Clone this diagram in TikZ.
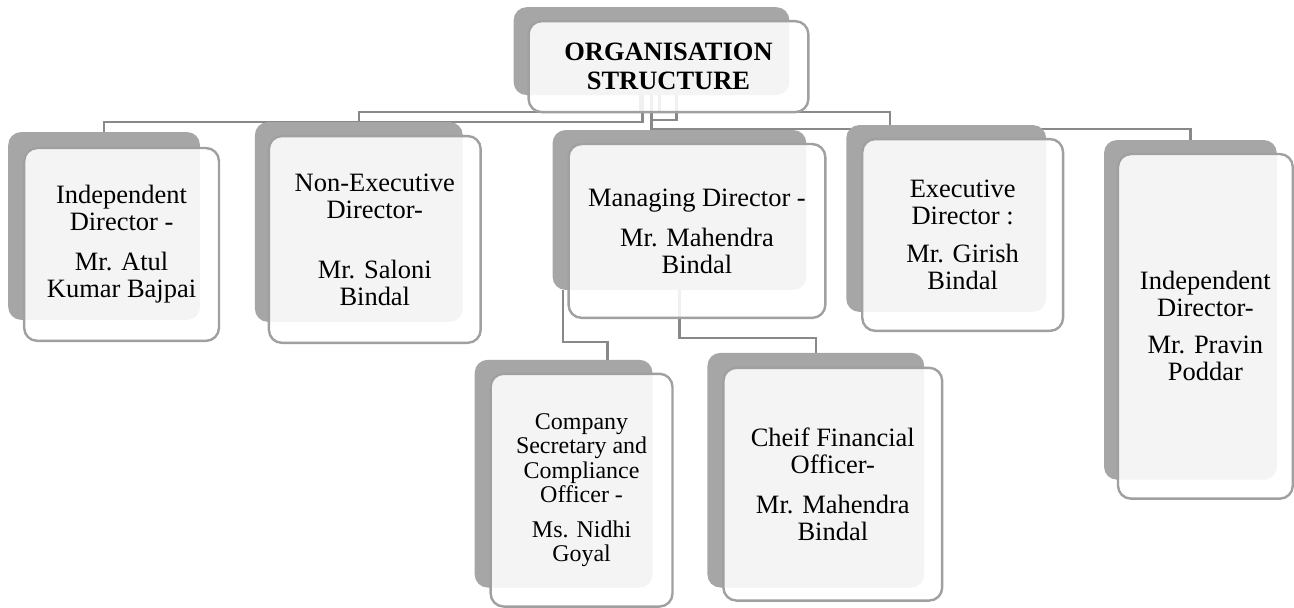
\documentclass[tikz,border=0pt]{standalone}
\usepackage{fontspec}
\setmainfont{Liberation Serif}
\usetikzlibrary{backgrounds,calc}
\definecolor{shade}{RGB}{166,166,166}
\definecolor{rim}{RGB}{160,160,160}
\definecolor{wire}{RGB}{137,137,137}
\begin{document}
\begin{tikzpicture}[x=1pt,y=-1pt,
	back/.style={fill=shade,rounded corners=13pt,anchor=north west,inner sep=0pt},
	front/.style={draw=rim,line width=2.4pt,fill=white,fill opacity=.88,text opacity=1,rounded corners=13pt,anchor=north west,inner sep=0pt,align=center,font=\fontsize{26.5}{27}\selectfont},
	conn/.style={draw=wire,line width=2.2pt}]
	\begin{pgfonlayer}{background}
	\path[fill=white,use as bounding box] (0,0) rectangle (1294,603);
	\end{pgfonlayer}
	\node[back,minimum width=276pt,minimum height=88pt] (orgb) at (514,7) {};
	\node[front,minimum width=280pt,minimum height=91pt,font=\bfseries\fontsize{26.5}{29}\selectfont] (org) at (528,20) {ORGANISATION\\STRUCTURE};
	\node[back,minimum width=192pt,minimum height=188pt] (ind1b) at (8,132) {};
	\node[front,minimum width=195pt,minimum height=193pt] (ind1) at (23,147) {Independent\\Director -\\[13pt]Mr. Atul\\Kumar Bajpai};
	\node[back,minimum width=208pt,minimum height=200pt] (nonexb) at (255,122) {};
	\node[front,minimum width=212pt,minimum height=207pt] (nonex) at (268,135) {Non-Executive\\Director-\\[33pt]Mr. Saloni\\Bindal};
	\node[back,minimum width=254pt,minimum height=160pt] (mdb) at (553,130) {};
	\node[front,minimum width=257pt,minimum height=174pt] (md) at (568,143) {Managing Director -\\[13pt]Mr. Mahendra\\Bindal};
	\node[back,minimum width=200pt,minimum height=187pt] (exdb) at (847,125) {};
	\node[front,minimum width=201pt,minimum height=192pt] (exd) at (862,138) {Executive\\Director :\\[11pt]Mr. Girish\\Bindal};
	\node[back,minimum width=173pt,minimum height=340pt] (ind2b) at (1105,140) {};
	\node[front,minimum width=175pt,minimum height=345pt] (ind2) at (1118,153) {Independent\\Director-\\[10pt]Mr. Pravin\\Poddar};
	\node[back,minimum width=178pt,minimum height=228pt] (csb) at (475,360) {};
	\node[front,minimum width=182pt,minimum height=233pt,font=\fontsize{24}{24.5}\selectfont] (cs) at (490,373) {Company\\Secretary and\\Compliance\\Officer -\\[10pt]Ms. Nidhi\\Goyal};
	\node[back,minimum width=217pt,minimum height=235pt] (cfob) at (708,353) {};
	\node[front,minimum width=219pt,minimum height=233pt] (cfo) at (723,367) {Cheif Financial\\Officer-\\[13pt]Mr. Mahendra\\Bindal};
	\begin{pgfonlayer}{background}
	\draw[conn] ([xshift=-9pt]orgb.south) |- ($(ind1b.north)+(0,-10)$) -- (ind1b.north);
	\draw[conn] ([xshift=-11pt]orgb.south) |- ($(nonexb.north)+(0,-10)$) -- (nonexb.north);
	\draw[conn] ([xshift=25pt]orgb.south) |- ($([xshift=-28pt]mdb.north)+(0,-10)$) -- ([xshift=-28pt]mdb.north);
	\draw[conn] ([xshift=8pt]orgb.south) |- ($([xshift=-56pt]exdb.north)+(0,-13)$) -- ([xshift=-56pt]exdb.north);
	\draw[conn] (orgb.south) |- ($(ind2b.north)+(0,-11)$) -- (ind2b.north);
	\draw[conn] ([xshift=11pt]mdb.south west) |- ($([xshift=44pt]csb.north)+(0,-18)$) -- ([xshift=44pt]csb.north);
	\draw[conn] (mdb.south) |- ($(cfob.north)+(0,-15)$) -- (cfob.north);
	\end{pgfonlayer}
\end{tikzpicture}
\end{document}
